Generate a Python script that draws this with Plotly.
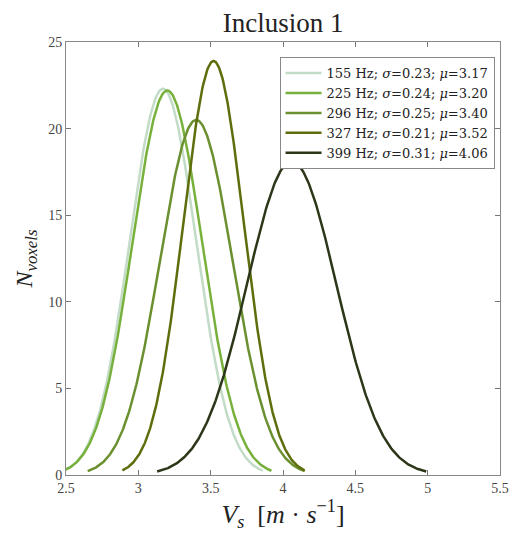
import numpy as np
import plotly.graph_objects as go

freqs = ["155", "225", "296", "327", "399"]
sigmas = [0.23, 0.24, 0.25, 0.21, 0.31]
mus = [3.17, 3.20, 3.40, 3.52, 4.06]
peaks = [22.3, 22.2, 20.5, 23.9, 18.1]
colors = ["#c2dcc8", "#78b03c", "#6b9030", "#5e6e0c", "#2c3618"]

fig = go.Figure()
for f, s, m, p, c in zip(freqs, sigmas, mus, peaks, colors):
    x = np.linspace(m - 3 * s, m + 3 * s, 300)
    y = p * np.exp(-((x - m) ** 2) / (2 * s ** 2))
    fig.add_trace(go.Scatter(
        x=x, y=y, mode="lines",
        line=dict(color=c, width=2.5),
        name=f"{f} Hz; <i>σ</i>={s:.2f}; <i>μ</i>={m:.2f}",
    ))

font_family = "Liberation Serif, DejaVu Serif, serif"
fig.update_layout(
    width=514, height=534,
    margin=dict(l=66, r=14, t=42, b=59, autoexpand=False),
    paper_bgcolor="white", plot_bgcolor="white",
    font=dict(family=font_family, color="#444444", size=14),
    title=dict(text="Inclusion 1", x=0.551, xanchor="center", y=0.958, yanchor="middle",
               font=dict(size=27, color="#222222", family=font_family)),
    showlegend=True,
    legend=dict(x=0.492, y=0.965, xanchor="left", yanchor="top",
                bordercolor="#888888", borderwidth=1, bgcolor="white",
                font=dict(size=13, color="#222222", family="DejaVu Serif, serif"),
                itemwidth=36, tracegroupgap=0),
)
fig.update_xaxes(
    range=[2.5, 5.5], tickvals=[2.5, 3, 3.5, 4, 4.5, 5, 5.5],
    ticktext=["2.5", "3", "3.5", "4", "4.5", "5", "5.5"],
    ticks="inside", ticklen=5, tickcolor="#777777", automargin=False,
    showline=True, linecolor="#888888", linewidth=1, mirror="ticks",
    showgrid=False, zeroline=False,
    title=dict(text="<i>V</i><sub><i>s</i></sub>  [<i>m</i> · <i>s</i><sup>−1</sup>]",
               font=dict(size=26, color="#222222", family=font_family), standoff=4),
)
fig.update_yaxes(
    range=[0, 25], tickvals=[0, 5, 10, 15, 20, 25],
    ticks="inside", ticklen=5, tickcolor="#777777", automargin=False,
    showline=True, linecolor="#888888", linewidth=1, mirror="ticks",
    showgrid=False, zeroline=False,
    title=dict(text="<i>N</i><sub><i>voxels</i></sub>",
               font=dict(size=24, color="#222222", family=font_family), standoff=8),
)
fig.write_html("out.html", config={"displayModeBar": False},
               post_script="document.body.style.margin='0';document.body.style.overflow='hidden';")
